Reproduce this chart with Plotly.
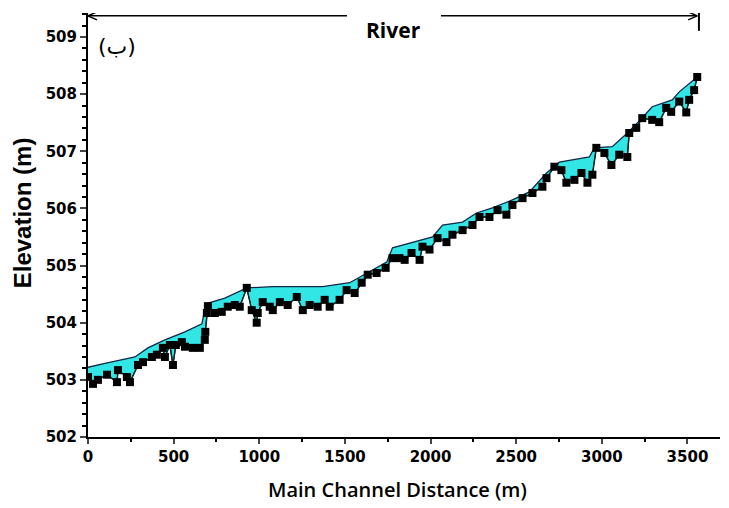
import plotly.graph_objects as go

# Channel bed (cross-section invert) profile
bed_x = [0, 29, 58, 111, 169, 175, 227, 245, 292, 321, 373, 402, 437, 449, 478, 496, 513, 548, 566,
         612, 653, 682, 685, 694, 700, 741, 781, 816, 857, 886, 927, 956, 985, 991, 1020, 1061, 1079,
         1120, 1166, 1219, 1254, 1294, 1341, 1382, 1411, 1469, 1510, 1557, 1598, 1633, 1685, 1738,
         1778, 1819, 1849, 1889, 1936, 1953, 1994, 2041, 2093, 2128, 2187, 2245, 2286, 2344, 2391,
         2443, 2478, 2537, 2595, 2653, 2677, 2723, 2764, 2793, 2840, 2881, 2916, 2945, 2968, 3015,
         3056, 3102, 3149, 3160, 3201, 3236, 3294, 3335, 3376, 3405, 3452, 3493, 3510, 3539, 3557]
bed_y = [503.05, 502.93, 503.00, 503.09, 502.96, 503.17, 503.05, 502.96, 503.26, 503.31, 503.40,
         503.44, 503.56, 503.40, 503.61, 503.26, 503.61, 503.66, 503.58, 503.56, 503.56, 503.70,
         503.84, 504.17, 504.29, 504.17, 504.19, 504.28, 504.31, 504.28, 504.61, 504.22, 504.00,
         504.17, 504.36, 504.28, 504.22, 504.36, 504.31, 504.45, 504.22, 504.31, 504.28, 504.40,
         504.28, 504.40, 504.57, 504.52, 504.70, 504.84, 504.87, 504.96, 505.13, 505.13, 505.10,
         505.22, 505.10, 505.33, 505.28, 505.48, 505.41, 505.54, 505.62, 505.71, 505.85, 505.85,
         505.97, 505.89, 506.06, 506.18, 506.27, 506.38, 506.53, 506.73, 506.67, 506.45, 506.50,
         506.62, 506.45, 506.59, 507.06, 506.97, 506.76, 506.94, 506.90, 507.32, 507.41, 507.58,
         507.55, 507.51, 507.76, 507.69, 507.87, 507.68, 507.90, 508.07, 508.30]

# Water surface profile
ws_x = [0, 99, 274, 350, 449, 566, 665, 688, 799, 927, 1079, 1370, 1528, 1662, 1744, 1778, 1895,
        2012, 2070, 2187, 2268, 2362, 2478, 2577, 2677, 2752, 2927, 2956, 3061, 3149, 3219, 3294,
        3411, 3452, 3557]
ws_y = [503.22, 503.29, 503.40, 503.56, 503.70, 503.84, 503.98, 504.33, 504.43, 504.61, 504.63,
        504.63, 504.70, 504.92, 505.06, 505.31, 505.41, 505.50, 505.71, 505.76, 505.92, 506.01,
        506.15, 506.29, 506.62, 506.81, 506.90, 507.06, 507.08, 507.32, 507.53, 507.78, 507.90,
        508.04, 508.30]

x_ticks = [0, 500, 1000, 1500, 2000, 2500, 3000, 3500]
y_ticks = [502, 503, 504, 505, 506, 507, 508, 509]

river_start, river_end = 0, 3557
gap_start, gap_end = 1512, 2061
arrow_y = 509.37

fig = go.Figure()
fig.add_trace(go.Scatter(x=bed_x, y=bed_y, mode="lines", line=dict(color="black", width=1),
                         hoverinfo="skip", showlegend=False))
fig.add_trace(go.Scatter(x=ws_x, y=ws_y, mode="lines", fill="tonexty", fillcolor="#33E6E6",
                         line=dict(color="#10284a", width=1.3), showlegend=False))
fig.add_trace(go.Scatter(x=bed_x, y=bed_y, mode="lines+markers",
                         line=dict(color="#0a2a2a", width=1.5),
                         marker=dict(symbol="square", size=8, color="black"),
                         showlegend=False))

tickfont = dict(family="DejaVu Sans", size=15, color="black", weight="bold")
fig.update_xaxes(range=[0, 3690], tickvals=x_ticks, ticks="outside", ticklen=5, tickwidth=1.5,
                 showline=True, linecolor="black", linewidth=2, showgrid=False, zeroline=False,
                 tickfont=tickfont,
                 minor=dict(dtick=250, ticks="outside", ticklen=3, tickcolor="black"))
fig.update_yaxes(range=[502, 509.42], tickvals=y_ticks, ticks="outside", ticklen=6, tickwidth=1.5,
                 showline=True, linecolor="black", linewidth=2, showgrid=False, zeroline=False,
                 tickfont=tickfont,
                 minor=dict(dtick=0.2, ticks="outside", ticklen=4, tickcolor="black"))

shapes = [
    dict(type="line", xref="x", yref="y", x0=river_start, x1=gap_start, y0=arrow_y, y1=arrow_y,
         line=dict(color="black", width=1.5)),
    dict(type="line", xref="x", yref="y", x0=gap_end, x1=river_end, y0=arrow_y, y1=arrow_y,
         line=dict(color="black", width=1.5)),
    dict(type="line", xref="x", yref="y", xsizemode="pixel", ysizemode="pixel",
         xanchor=river_start, yanchor=arrow_y, x0=0, x1=9, y0=0, y1=4,
         line=dict(color="black", width=1.5)),
    dict(type="line", xref="x", yref="y", xsizemode="pixel", ysizemode="pixel",
         xanchor=river_start, yanchor=arrow_y, x0=0, x1=9, y0=0, y1=-4,
         line=dict(color="black", width=1.5)),
    dict(type="line", xref="x", yref="y", xsizemode="pixel", ysizemode="pixel",
         xanchor=river_end, yanchor=arrow_y, x0=0, x1=-9, y0=0, y1=4,
         line=dict(color="black", width=1.5)),
    dict(type="line", xref="x", yref="y", xsizemode="pixel", ysizemode="pixel",
         xanchor=river_end, yanchor=arrow_y, x0=0, x1=-9, y0=0, y1=-4,
         line=dict(color="black", width=1.5)),
    dict(type="line", xref="x", yref="y", xsizemode="pixel", ysizemode="pixel",
         xanchor=river_end + 10, yanchor=arrow_y, x0=0, x1=0, y0=9, y1=-15,
         line=dict(color="black", width=2)),
]

annotations = [
    dict(text="River", xref="x", yref="y", x=(gap_start + gap_end) / 2, y=arrow_y, yshift=-14,
         xanchor="center", showarrow=False,
         font=dict(family="Open Sans", size=21, color="black", weight="bold")),
    dict(text="(ب)", xref="x", yref="y", x=170, y=508.83, xanchor="center", showarrow=False,
         font=dict(family="DejaVu Sans", size=22, color="black")),
    dict(text="Elevation (m)", xref="paper", yref="y", x=-0.104, y=505.92, textangle=-90,
         xanchor="center", yanchor="middle", showarrow=False,
         font=dict(family="Liberation Sans", size=24, color="black", weight="bold")),
    dict(text="Main Channel Distance (m)", xref="paper", yref="paper", x=0.49, y=-0.16,
         xanchor="center", showarrow=False,
         font=dict(family="Open Sans", size=20, color="black", weight=600)),
]

fig.update_layout(width=729, height=508, margin=dict(l=88, r=9, t=13, b=71),
                  plot_bgcolor="white", paper_bgcolor="white",
                  shapes=shapes, annotations=annotations, showlegend=False)

fig.write_html("out.html")
